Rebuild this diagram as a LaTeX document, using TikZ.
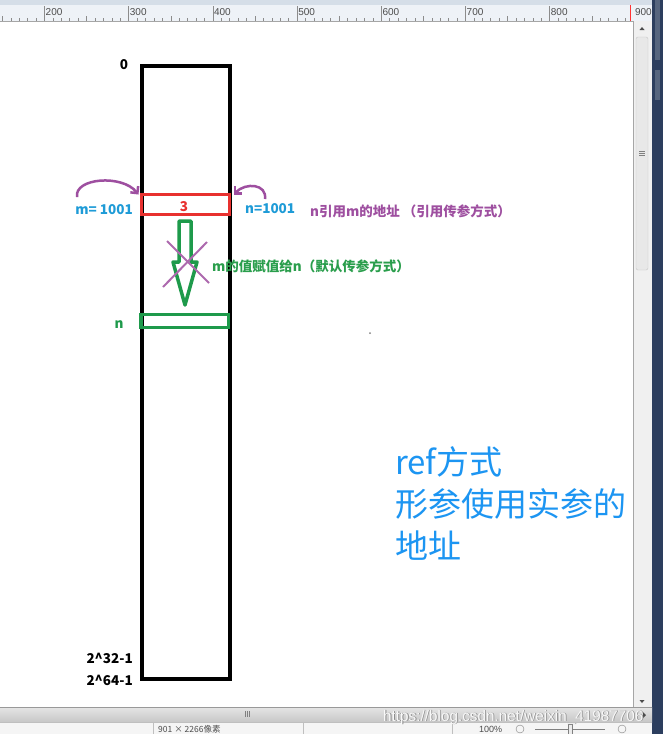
\documentclass[tikz,border=0pt]{standalone}
\usepackage{fontspec}
\setmainfont{Noto Sans CJK SC}
\newfontfamily\uifont{Liberation Sans}
\usetikzlibrary{arrows.meta,calc}
\definecolor{lblblue}{HTML}{1E9BD7}
\definecolor{bigblue}{HTML}{1C95F2}
\definecolor{refpurple}{HTML}{9E4FA0}
\definecolor{valgreen}{HTML}{2A9E4C}
\definecolor{boxgreen}{HTML}{1E9A4B}
\definecolor{cellred}{HTML}{E8312F}
\definecolor{navy}{HTML}{2C3E5E}
\definecolor{rulerbg}{HTML}{EEF2F7}
\definecolor{rulertop}{HTML}{D5DEE8}
\begin{document}
\begin{tikzpicture}[x=1pt,y=-1pt,
  lbl/.style={inner sep=0pt,font=\fontsize{13.5}{16}\selectfont\bfseries},
  big/.style={inner sep=0pt,font=\fontsize{33}{40}\selectfont,text=bigblue},
  cellbox/.style={inner sep=0pt,outer sep=0pt},
  refarrow/.style={refpurple,line width=2.5pt,-{Straight Barb[length=5pt,width=10pt]}},
  cross/.style={refpurple!85,line width=2pt},
  ui/.style={inner sep=0pt,font=\uifont\fontsize{10}{12}\selectfont,text=black!70}]
\useasboundingbox (0,0) rectangle (663,734);
\fill[white] (0,0) rectangle (663,734);

% ---------- window chrome ----------
\fill[rulertop] (0,0) rectangle (652,5);
\fill[rulerbg] (0,5) rectangle (652,21);
\draw[black!35] (0,21) -- (633,21);
\foreach \i in {0,...,74}{
  \pgfmathsetmacro\xx{2.3+8.42*\i}
  \pgfmathtruncatemacro\r{mod(\i,10)}
  \ifnum\r=5
    \draw[black!45] (\xx,6) -- (\xx,21);
  \else\ifnum\r=0
    \draw[black!45] (\xx,16) -- (\xx,21);
  \else
    \draw[black!45] (\xx,18) -- (\xx,21);
  \fi\fi
}
\foreach \n [count=\k from 0] in {200,300,400,500,600,700,800,900}{
  \node[ui,anchor=west] (r\n) at (45.5+84.2*\k,12.5) {\n};
}
\draw[red!80,line width=1pt] (630,5) -- (630,21);

% vertical scrollbar
\fill[black!6] (633,21) rectangle (652,707);
\draw[black!35] (633,21) -- (633,707);
\draw[black!22,fill=black!9,rounded corners=2pt] (636,37) rectangle (648,270);
\foreach \yy in {151,153,155} \draw[black!50] (639,\yy) -- (645,\yy);
\fill[black!70] (639.5,30) -- (644.5,30) -- (642,27) -- cycle;
\fill[black!70] (639.5,700) -- (644.5,700) -- (642,703) -- cycle;
% navy strip
\fill[navy] (652,0) rectangle (663,734);
\fill[navy!80!white] (655,0) rectangle (660,60);
\fill[navy!80!white] (655,70) rectangle (660,100);

% horizontal scrollbar
\shade[top color=black!10,bottom color=black!22] (0,707) rectangle (652,722);
\draw[black!40] (0,707) -- (652,707);
\foreach \xx in {245,247,249} \draw[black!50] (\xx,711) -- (\xx,717);
\fill[black!70] (643,712) -- (643,718) -- (646,715) -- cycle;
% status bar
\fill[black!4] (0,722) rectangle (652,734);
\draw[black!25] (0,722) -- (652,722);
\foreach \xx in {153,303,452} \draw[black!25] (\xx,723) -- (\xx,734);
\node[ui,anchor=base west,font=\fontsize{8.5}{9}\selectfont] (stat) at (158,732) {901 × 2266像素};
\node[ui,anchor=base west,font=\uifont\fontsize{9}{10}\selectfont] (zoom) at (479,732.5) {100\%};
\draw[black!50] (520,729) circle (4);
\draw[black!50] (535,729) -- (605,729);
\draw[black!50,fill=black!8] (568,724) rectangle (572,734);
\draw[black!50] (622,729) circle (4);
% watermark
\node[inner sep=0pt,anchor=base west,font=\uifont\fontsize{15.3}{17}\selectfont,text=black!45] (wm0) at (383.8,721.8) {https://blog.csdn.net/weixin\_41987706};
\node[inner sep=0pt,anchor=base west,font=\uifont\fontsize{15.3}{17}\selectfont,text=white,opacity=0.9] (wm) at (383,721) {https://blog.csdn.net/weixin\_41987706};

% ---------- memory diagram ----------
\node[cellbox,draw,line width=4pt,minimum width=87.5pt,minimum height=613pt] (mem) at (185.75,372.5) {};
\node[cellbox,draw=cellred,line width=3.5pt,minimum width=88pt,minimum height=20pt] (mcell) at (185.5,204.5) {};
\node[cellbox,draw=boxgreen,line width=3.5pt,minimum width=87.5pt,minimum height=13pt] (ncell) at (184.75,321) {};

\node[lbl,text=cellred] (three) at (184,207) {3};
\node[lbl,anchor=base] (zero) at (124,69) {0};
\node[lbl,anchor=base east] (p32) at (133,663) {2\^{}32-1};
\node[lbl,anchor=base east] (p64) at (133,685) {2\^{}64-1};
\node[lbl,text=boxgreen,anchor=base] (nlbl) at (119,328) {n};

\node[lbl,text=lblblue,anchor=base east] (mval) at (133,214) {m= 1001};
\node[lbl,text=lblblue,anchor=base west] (nval) at (245,213) {n=1001};
\node[lbl,text=refpurple,anchor=base west] (reftxt) at (310,216) {n引用m的地址 （引用传参方式）};
\node[lbl,text=valgreen,anchor=base west] (valtxt) at (212,271) {m的值赋值给n（默认传参方式）};

% purple reference arrows
\coordinate (lstart) at (77,197);
\coordinate (rstart) at (265,199);
\draw[refarrow] (lstart) .. controls (74,178) and (122,174) .. ([shift={(-3,0)}]mcell.north west);
\draw[refarrow] (rstart) .. controls (267,184) and (246,182) .. ([shift={(4,0)}]mcell.north east);

% green hollow arrow (crossed out)
\draw[boxgreen,line width=3.5pt,line join=round] (179,221) -- (191,221) -- (191,262) -- (197,262) -- (185,305) -- (173,262) -- (179,262) -- cycle;
\draw[cross] (167,241) -- (209,283);
\draw[cross] (207,242) -- (163,287);

\fill[black!50] (370,333) circle (1);

% big blue note
\node[big,anchor=base west] (l1) at (395,474) {ref方式};
\node[big,anchor=base west] (l2) at (395,516) {形参使用实参的};
\node[big,anchor=base west] (l3) at (395,558) {地址};
\end{tikzpicture}
\end{document}
